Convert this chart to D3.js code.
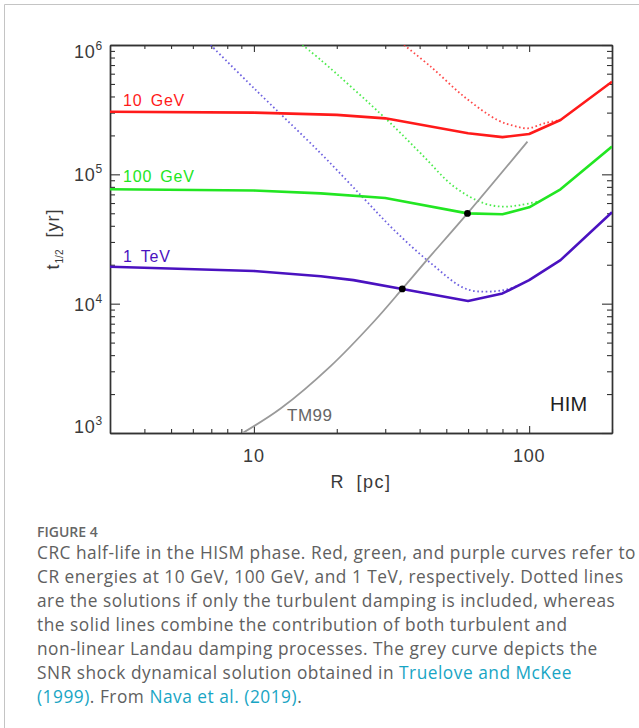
<!DOCTYPE html>
<html>
<head>
<meta charset="utf-8">
<script src="https://cdn.jsdelivr.net/npm/d3@7"></script>
<style>
  html, body { margin: 0; padding: 0; background: #fff; }
  svg { display: block; }
</style>
</head>
<body>
<svg id="fig" width="639" height="728"></svg>
<script>
// ---- Data: half-life t_1/2 [yr] versus remnant radius R [pc] ----
// Solid curves: turbulent + non-linear Landau damping
const rRed10GeV    = [3, 10, 20, 30, 60, 80, 100, 130, 200];
const tRed10GeV    = [3.05e5, 3.0e5, 2.88e5, 2.71e5, 2.08e5, 1.94e5, 2.05e5, 2.63e5, 5.2e5];
const rGreen100GeV = [3, 10, 17.5, 30, 59.7, 80, 100, 130, 200];
const tGreen100GeV = [7.66e4, 7.5e4, 7.13e4, 6.56e4, 4.99e4, 4.91e4, 5.56e4, 7.66e4, 1.64e5];
const rPurple1TeV  = [3, 10, 17.5, 23, 34.6, 60, 80, 100, 130, 200];
const tPurple1TeV  = [1.93e4, 1.79e4, 1.63e4, 1.52e4, 1.30e4, 1.05e4, 1.2e4, 1.52e4, 2.17e4, 5.1e4];

// Dotted curves: turbulent damping only
const rRedTurb    = [35.1, 43.9, 58.1, 76.7, 88.1, 99, 115, 130];
const tRedTurb    = [1e6, 6.8e5, 3.98e5, 2.63e5, 2.37e5, 2.27e5, 2.5e5, 2.63e5];
const rGreenTurb  = [15.0, 17.5, 30.5, 40.4, 53.4, 68.6, 81.1, 93.3, 110];
const tGreenTurb  = [1e6, 7.66e5, 2.63e5, 1.45e5, 8.02e4, 5.97e4, 5.62e4, 5.8e4, 6.22e4];
const rPurpleTurb = [6.96, 10, 17.5, 25, 32.3, 44, 59.7, 80.3, 92];
const tPurpleTurb = [1e6, 4.64e5, 1.45e5, 6.56e4, 3.71e4, 2.05e4, 1.29e4, 1.27e4, 1.39e4];

// Grey curve: SNR shock dynamical solution (TM99)
const rSnr = [9.1, 12.5, 19.0, 27.3, 34.6, 41.5, 59.7, 98.6];
const tSnr = [1000, 1545, 3290, 7280, 1.30e4, 2.05e4, 4.99e4, 1.79e5];

// Crossings of the shock solution with the 1 TeV and 100 GeV curves
const rCross = [34.6, 59.7];
const tCross = [1.30e4, 4.99e4];

// Axis ticks
const xMajorTicks = [10, 100];
const xTickLabels = ["10", "100"];
const xMinorTicks = [4, 5, 6, 7, 8, 9, 20, 30, 40, 50, 60, 70, 80, 90, 200];
const yMajorTicks = [1e3, 1e4, 1e5, 1e6];
const yTickExponents = ["3", "4", "5", "6"];
const yMinorTicks = [2,3,4,5,6,7,8,9].flatMap(m => [1e3, 1e4, 1e5].map(d => m * d));

const seriesLabels = ["10 GeV", "100 GeV", "1 TeV"];

const captionTitle = "FIGURE 4";
const captionLines = [
  [["CRC half-life in the HISM phase. Red, green, and purple curves refer to", false]],
  [["CR energies at 10 GeV, 100 GeV, and 1 TeV, respectively. Dotted lines", false]],
  [["are the solutions if only the turbulent damping is included, whereas", false]],
  [["the solid lines combine the contribution of both turbulent and", false]],
  [["non-linear Landau damping processes. The grey curve depicts the", false]],
  [["SNR shock dynamical solution obtained in ", false], ["Truelove and McKee", true]],
  [["(1999)", true], [". From ", false], ["Nava et al. (2019)", true], [".", false]]
];

// ---- Layout ----
const svg = d3.select("#fig");
const plot = { left: 110, right: 612, top: 45, bottom: 433 };
const axisFont = "'Liberation Sans', Arial, Helvetica, sans-serif";
const colors = { red: "#ff1a1a", green: "#22e622", purple: "#4a12c0", grey: "#9a9a9a" };

svg.append("rect").attr("width", 639).attr("height", 728).attr("fill", "#fff");
// page frame (top and left rules)
svg.append("path").attr("d", "M4.5,728V4.5H639")
  .attr("fill", "none").attr("stroke", "#c4c4c4").attr("stroke-width", 1);

const x = d3.scaleLog().domain([3, 200]).range([plot.left, plot.right]);
const y = d3.scaleLog().domain([1e3, 1e6]).range([plot.bottom, plot.top]);

svg.append("defs").append("clipPath").attr("id", "plotClip")
  .append("rect").attr("x", plot.left).attr("y", plot.top)
  .attr("width", plot.right - plot.left).attr("height", plot.bottom - plot.top);

// ---- Axes: inward ticks mirrored on all four sides ----
function styleAxis(g) {
  g.selectAll("path.domain").attr("stroke", "#333").attr("stroke-width", 1.4);
  g.selectAll(".tick line").attr("stroke", "#333").attr("stroke-width", 1.1);
  g.selectAll(".tick text").remove();
}
function addAxis(gen, tx, ty, values, size) {
  svg.append("g").attr("transform", `translate(${tx},${ty})`)
    .call(gen.tickValues(values).tickSize(size).tickSizeOuter(0).tickFormat(() => ""))
    .call(styleAxis);
}
addAxis(d3.axisBottom(x), 0, plot.bottom, xMinorTicks, -4);
addAxis(d3.axisBottom(x), 0, plot.bottom, xMajorTicks, -7);
addAxis(d3.axisTop(x), 0, plot.top, xMinorTicks, -4);
addAxis(d3.axisTop(x), 0, plot.top, xMajorTicks, -7);
addAxis(d3.axisLeft(y), plot.left, 0, yMinorTicks, -5);
addAxis(d3.axisLeft(y), plot.left, 0, yMajorTicks, -10);
addAxis(d3.axisRight(y), plot.right, 0, yMinorTicks, -5);
addAxis(d3.axisRight(y), plot.right, 0, yMajorTicks, -10);

// tick labels
svg.append("g").selectAll("text").data(xMajorTicks).join("text")
  .attr("x", d => x(d)).attr("y", 461.5)
  .attr("text-anchor", "middle")
  .attr("font-family", axisFont).attr("font-size", 18).attr("letter-spacing", 0.8)
  .attr("fill", "#3a3a3a")
  .text((d, i) => xTickLabels[i]);

const yLab = svg.append("g").selectAll("text").data(yMajorTicks).join("text")
  .attr("x", 103)
  .attr("y", d => Math.max(58, Math.min(plot.bottom, y(d) + 7)))
  .attr("text-anchor", "end")
  .attr("font-family", axisFont).attr("font-size", 18).attr("letter-spacing", 0.8)
  .attr("fill", "#3a3a3a");
yLab.append("tspan").text("10");
yLab.append("tspan").attr("dy", -8).attr("font-size", 12).text((d, i) => yTickExponents[i]);

// axis titles
svg.append("text")
  .attr("x", (plot.left + plot.right) / 2).attr("y", 488)
  .attr("text-anchor", "middle")
  .attr("font-family", axisFont).attr("font-size", 18)
  .attr("letter-spacing", 1.5).attr("word-spacing", 5)
  .attr("fill", "#3a3a3a").text("R [pc]");

const yTitle = svg.append("text")
  .attr("transform", `translate(59,${(plot.top + plot.bottom) / 2}) rotate(-90)`)
  .attr("text-anchor", "middle")
  .attr("font-family", axisFont).attr("font-size", 18)
  .attr("letter-spacing", 1).attr("word-spacing", 6)
  .attr("fill", "#3a3a3a");
yTitle.append("tspan").text("t");
yTitle.append("tspan").attr("dy", 4).attr("font-size", 10).attr("letter-spacing", 0).text("1/2");
yTitle.append("tspan").attr("dy", -4).text(" [yr]");

// ---- Curves ----
const toPts = (rs, ts) => rs.map((r, i) => [r, ts[i]]);
const linear = d3.line().x(d => x(d[0])).y(d => y(d[1]));
const smooth = d3.line().x(d => x(d[0])).y(d => y(d[1])).curve(d3.curveCatmullRom.alpha(0.5));

const curves = svg.append("g").attr("clip-path", "url(#plotClip)");

const dotted = [
  [rRedTurb, tRedTurb, colors.red],
  [rGreenTurb, tGreenTurb, colors.green],
  [rPurpleTurb, tPurpleTurb, "#4a3ad8"]
];
dotted.forEach(([rs, ts, c]) => {
  curves.append("path").attr("d", smooth(toPts(rs, ts)))
    .attr("fill", "none").attr("stroke", c).attr("stroke-opacity", 0.8)
    .attr("stroke-width", 1.8).attr("stroke-dasharray", "1.6 2.6");
});

curves.append("path").attr("d", smooth(toPts(rSnr, tSnr)))
  .attr("fill", "none").attr("stroke", colors.grey).attr("stroke-width", 1.8);

const solid = [
  [rRed10GeV, tRed10GeV, colors.red],
  [rGreen100GeV, tGreen100GeV, colors.green],
  [rPurple1TeV, tPurple1TeV, colors.purple]
];
solid.forEach(([rs, ts, c]) => {
  curves.append("path").attr("d", linear(toPts(rs, ts)))
    .attr("fill", "none").attr("stroke", c).attr("stroke-width", 2.6)
    .attr("stroke-linejoin", "round");
});

curves.selectAll("circle").data(toPts(rCross, tCross)).join("circle")
  .attr("cx", d => x(d[0])).attr("cy", d => y(d[1])).attr("r", 3.4).attr("fill", "#000");

// ---- In-plot labels ----
const labelFont = { "font-family": axisFont, "font-size": 16, "letter-spacing": 0.8, "word-spacing": 3 };
function label(txt, lx, ly, fill, extra) {
  const t = svg.append("text").attr("x", lx).attr("y", ly).attr("fill", fill).text(txt);
  Object.entries(Object.assign({}, labelFont, extra || {})).forEach(([k, v]) => t.attr(k, v));
  return t;
}
label(seriesLabels[0], 123, 106, colors.red);
label(seriesLabels[1], 123, 182, colors.green);
label(seriesLabels[2], 123, 262, colors.purple);
label("TM99", 287, 421, "#666", { "font-size": 17, "letter-spacing": 0.5 });
label("HIM", 550, 411, "#222", { "font-size": 20, "letter-spacing": 0.3 });

// ---- Caption ----
const capFont = "'Open Sans', Lato, 'Noto Sans', sans-serif";
svg.append("text").attr("x", 37).attr("y", 537)
  .attr("font-family", capFont).attr("font-weight", 600).attr("font-size", 14)
  .attr("fill", "#666").text(captionTitle);

const capG = svg.append("g")
  .attr("font-family", capFont).attr("font-size", 17.3).attr("fill", "#606060");
captionLines.forEach((parts, i) => {
  const t = capG.append("text").attr("x", 37).attr("y", 559 + i * 24);
  parts.forEach(([s, link]) => t.append("tspan").attr("fill", link ? "#18a5c4" : null).text(s));
});
// widen the tracking so the first line fills the text column
const firstLine = capG.select("text").node();
const w = firstLine.getComputedTextLength();
const nChars = captionLines[0][0][0].length;
if (w > 0 && w < 599) capG.attr("letter-spacing", ((599 - w) / nChars).toFixed(3));
</script>
</body>
</html>
